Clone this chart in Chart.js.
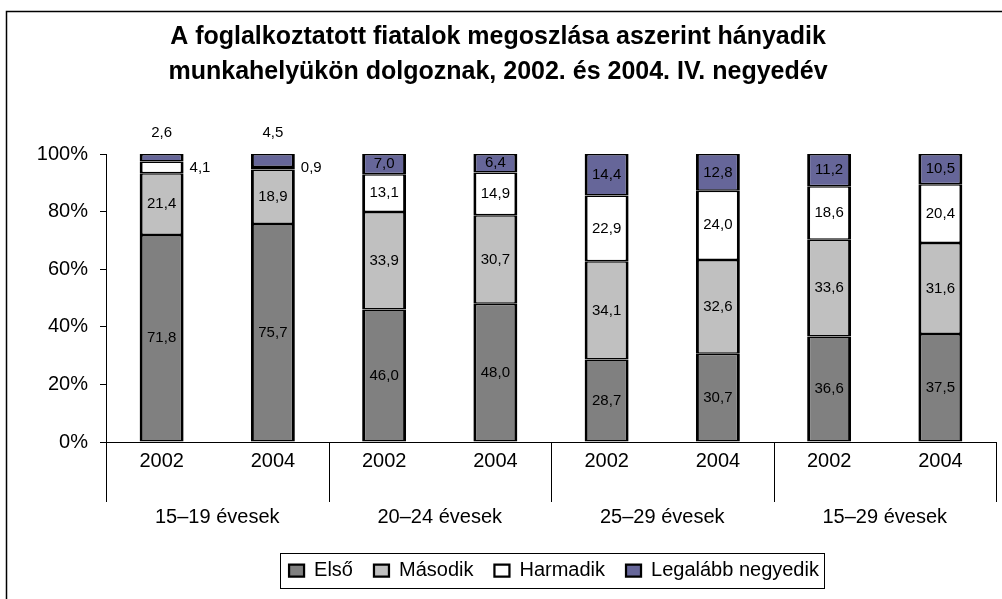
<!DOCTYPE html>
<html>
<head>
<meta charset="utf-8">
<script src="https://cdn.jsdelivr.net/npm/chart.js@4.4.0/dist/chart.umd.min.js"></script>
<style>
  html, body { margin: 0; padding: 0; background: #fff; overflow: hidden; }
  #chart { display: block; }
</style>
</head>
<body>
<canvas id="chart" width="1002" height="599"></canvas>
<script>
// age groups and years (two-level category axis)
const groups = ['15–19 évesek', '20–24 évesek', '25–29 évesek', '15–29 évesek'];
const years = ['2002', '2004'];

const seriesNames = ['Első', 'Második', 'Harmadik', 'Legalább negyedik'];
const elso = [71.8, 75.7, 46.0, 48.0, 28.7, 30.7, 36.6, 37.5];
const masodik = [21.4, 18.9, 33.9, 30.7, 34.1, 32.6, 33.6, 31.6];
const harmadik = [4.1, 0.9, 13.1, 14.9, 22.9, 24.0, 18.6, 20.4];
const negyedik = [2.6, 4.5, 7.0, 6.4, 14.4, 12.8, 11.2, 10.5];

const seriesColors = ['#808080', '#c0c0c0', '#ffffff', '#666699'];

const FONT = '"Liberation Sans", Arial, sans-serif';
const legendShift = 56;

const canvas = document.getElementById('chart');

Chart.defaults.font.family = FONT;
Chart.defaults.color = '#000';

const values = [elso, masodik, harmadik, negyedik];
const totals = elso.map((v, i) => values.reduce((s, arr) => s + arr[i], 0));
const labels = groups.flatMap(() => years);

function fmt(v) {
    return v.toFixed(1).replace('.', ',');
}

const decorations = {
    id: 'decorations',
    afterLayout(chart) {
        const lg = chart.legend;
        lg.left += legendShift;
        lg.right += legendShift;
    },
    afterDraw(chart) {
        const ctx = chart.ctx;
        const area = chart.chartArea;
        const xs = chart.scales.x;
        ctx.save();

        // outer frame
        ctx.strokeStyle = '#000';
        ctx.lineWidth = 1.5;
        ctx.strokeRect(6.5, 11.5, 1100, 700);

        // group separators under the axis
        const lineBottom = area.bottom + 60;
        const edges = [xs.left];
        groups.forEach((g, i) => {
            const last = i * 2 + 1;
            if (i === groups.length - 1) {
                edges.push(xs.right);
            } else {
                edges.push((xs.getPixelForValue(last) + xs.getPixelForValue(last + 1)) / 2);
            }
        });
        ctx.lineWidth = 1;
        edges.forEach(x => {
            const px = Math.round(x) + 0.5;
            ctx.beginPath();
            ctx.moveTo(px, area.bottom);
            ctx.lineTo(px, lineBottom);
            ctx.stroke();
        });

        ctx.fillStyle = '#000';
        ctx.font = '20px ' + FONT;
        ctx.textAlign = 'center';
        ctx.textBaseline = 'middle';
        groups.forEach((g, i) => {
            ctx.fillText(g, (edges[i] + edges[i + 1]) / 2, area.bottom + 75);
        });

        // value labels
        ctx.font = '15px ' + FONT;
        values.forEach((arr, d) => {
            const meta = chart.getDatasetMeta(d);
            arr.forEach((v, j) => {
                const bar = meta.data[j];
                const p = bar.getProps(['x', 'y', 'base', 'width'], true);
                const cy = (p.y + p.base) / 2;
                if (v < 5 && d === 2) {
                    ctx.textAlign = 'left';
                    ctx.fillText(fmt(v), p.x + p.width / 2 + 6, cy);
                } else if (v < 5 && d === 3) {
                    ctx.textAlign = 'center';
                    ctx.fillText(fmt(v), p.x, p.y - 21);
                } else {
                    ctx.textAlign = 'center';
                    ctx.fillText(fmt(v), p.x, cy);
                }
            });
        });

        // legend frame
        const lg = chart.legend;
        const pad = lg.options.labels.padding;
        const lw = lg.lineWidths[0];
        const x0 = (lg.left + pad + lg.right - lw) / 2;
        const x1 = x0 + lw - pad;
        const cy = lg.top + pad + lg.options.labels.font.size / 2;
        ctx.lineWidth = 1;
        ctx.strokeRect(Math.round(x0 - 9) + 0.5, Math.round(cy - 18) + 0.5, Math.round(x1 - x0 + 14), 35);

        ctx.restore();
    }
};

new Chart(canvas, {
    type: 'bar',
    data: {
        labels: labels,
        datasets: values.map((arr, d) => ({
            label: seriesNames[d],
            data: arr.map((v, i) => v / totals[i] * 100),
            backgroundColor: seriesColors[d],
            borderColor: '#000',
            borderWidth: { left: 3, right: 3, top: 1.5, bottom: 1.5 },
            borderSkipped: false,
            barPercentage: 0.395,
            categoryPercentage: 1
        }))
    },
    plugins: [decorations],
    options: {
        responsive: false,
        animation: false,
        devicePixelRatio: 1,
        layout: {
            padding: { left: 0, right: 6, top: 0, bottom: 8.5 }
        },
        plugins: {
            tooltip: { enabled: false },
            title: {
                display: true,
                text: ['A foglalkoztatott fiatalok megoszlása aszerint hányadik',
                       'munkahelyükön dolgoznak, 2002. és 2004. IV. negyedév'],
                color: '#000',
                font: { size: 25, weight: 'bold', lineHeight: 35 / 25 },
                padding: { top: 20, bottom: 64 }
            },
            legend: {
                position: 'bottom',
                labels: {
                    color: '#000',
                    font: { size: 20 },
                    boxWidth: 15,
                    boxHeight: 12,
                    padding: 21
                }
            }
        },
        scales: {
            x: {
                stacked: true,
                grid: { display: false, drawTicks: false },
                border: { display: true, color: '#000', width: 1 },
                ticks: {
                    font: { size: 20 },
                    color: '#000',
                    padding: 7,
                    autoSkip: false,
                    maxRotation: 0
                },
                afterFit(scale) {
                    scale.height = 97.5;
                }
            },
            y: {
                stacked: true,
                min: 0,
                max: 100,
                grid: { drawOnChartArea: false, drawTicks: true, tickLength: 6, color: '#000' },
                border: { display: true, color: '#000', width: 1 },
                ticks: {
                    stepSize: 20,
                    font: { size: 20 },
                    color: '#000',
                    padding: 12,
                    callback: v => v + '%'
                },
                afterFit(scale) {
                    scale.width = 106;
                }
            }
        }
    }
});
</script>
</body>
</html>
